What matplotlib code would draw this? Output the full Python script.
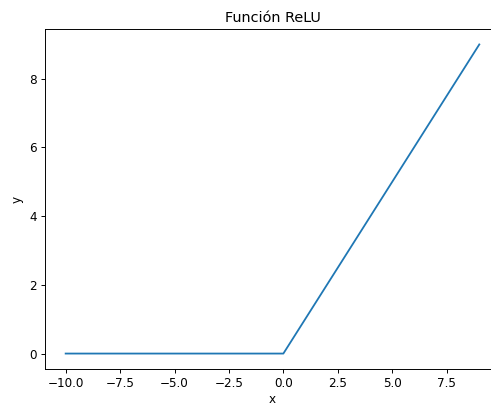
import matplotlib
matplotlib.use("Agg")
import matplotlib.pyplot as plt

# points (ReLU corners)
x = [-10, -5, 0, 5, 9]
y = [0, 0, 0, 5, 9]

dpi = 86.4
fig = plt.figure(figsize=(491 / dpi, 406 / dpi), dpi=dpi)
ax = fig.add_axes([0.0916, 0.0911, 0.9267, 0.8375])
ax.plot(x, y)
ax.set_title('Función ReLU')
ax.set_xlabel('x', labelpad=2.5)
ax.set_ylabel('y')
ax.set_xticks([-10.0, -7.5, -5.0, -2.5, 0.0, 2.5, 5.0, 7.5])
fig.savefig("out.png", dpi=dpi)
